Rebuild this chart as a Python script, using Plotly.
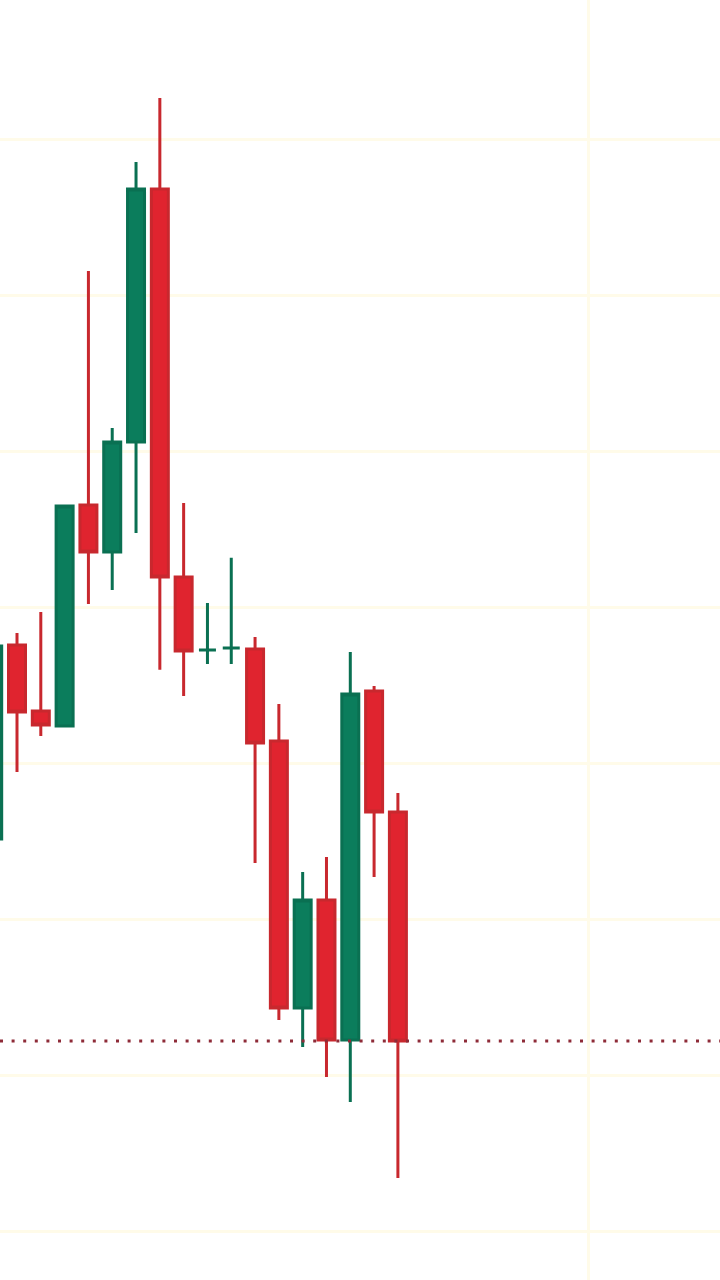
import plotly.graph_objects as go

# candle index (x), open, high, low, close
idx = list(range(18))
opens = [115.19, 127.63, 123.40, 122.44, 136.60, 133.59, 140.64, 156.86, 131.99, 127.31,
         127.44, 127.37, 121.47, 104.36, 111.28, 102.31, 124.68, 116.92]
highs = [127.95, 128.40, 129.74, 136.54, 151.60, 141.54, 158.59, 162.69, 136.73, 130.32,
         133.21, 128.14, 123.85, 113.08, 114.04, 127.18, 125.00, 118.14]
lows = [114.49, 119.49, 121.79, 122.44, 130.26, 131.15, 134.81, 126.03, 124.36, 126.41,
        126.41, 113.65, 103.59, 101.86, 99.94, 98.33, 112.76, 93.46]
closes = [127.56, 123.33, 122.50, 136.54, 133.59, 140.64, 156.86, 131.99, 127.24, 127.31,
          127.44, 121.35, 104.36, 111.28, 102.31, 124.49, 116.92, 102.24]
last_price = closes[-1]
y_ticks = [90, 100, 110, 120, 130, 140, 150, 160]
x_ticks = [25]

GREEN = "#0b7d5c"
RED = "#e0242f"
RED_LINE = "#c8282e"
GRID = "#fffbe9"

fig = go.Figure()
fig.add_trace(go.Candlestick(
    x=idx, open=opens, high=highs, low=lows, close=closes,
    increasing=dict(fillcolor=GREEN, line=dict(color="#0a7052", width=3)),
    decreasing=dict(fillcolor=RED, line=dict(color=RED_LINE, width=3)),
    whiskerwidth=0, hoverinfo="skip", showlegend=False,
))
fig.add_hline(y=last_price, line=dict(color="#8e2b38", width=3, dash="3px,8.6px"))

fig.update_layout(
    width=720, height=1280,
    margin=dict(l=0, r=0, t=0, b=0),
    paper_bgcolor="white", plot_bgcolor="white",
    boxgap=0.15, boxgroupgap=0.16,
    xaxis=dict(range=[0.286, 30.53], rangeslider=dict(visible=False),
               tickvals=x_ticks, showticklabels=False, showgrid=True,
               gridcolor=GRID, gridwidth=3, zeroline=False, showline=False, ticks=""),
    yaxis=dict(range=[86.92, 168.97], tickvals=y_ticks, showticklabels=False,
               showgrid=True, gridcolor=GRID, gridwidth=3, zeroline=False,
               showline=False, ticks=""),
)
fig.write_html("out.html", config={"displayModeBar": False},
               post_script="document.body.style.margin='0';")
